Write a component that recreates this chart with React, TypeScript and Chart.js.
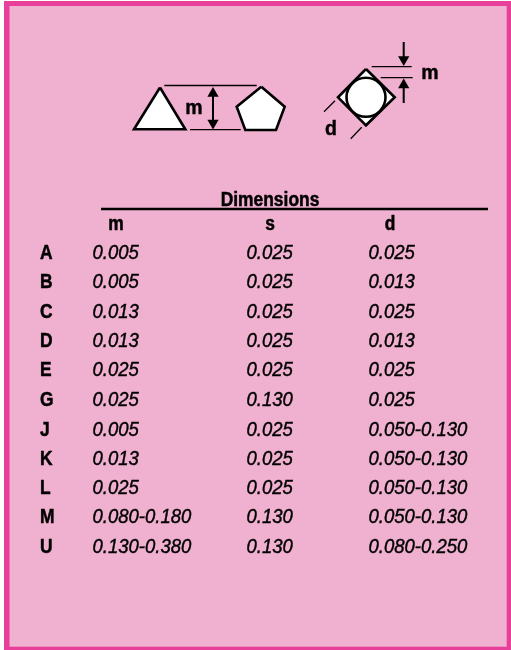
import React, { useEffect, useRef } from "react";
import { Chart, registerables } from "chart.js";

Chart.register(...registerables);

// Table content
const rowLabels = ["A", "B", "C", "D", "E", "G", "J", "K", "L", "M", "U"];
const mValues = ["0.005", "0.005", "0.013", "0.013", "0.025", "0.025", "0.005", "0.013", "0.025", "0.080-0.180", "0.130-0.380"];
const sValues = ["0.025", "0.025", "0.025", "0.025", "0.025", "0.130", "0.025", "0.025", "0.025", "0.130", "0.130"];
const dValues = ["0.025", "0.013", "0.025", "0.013", "0.025", "0.025", "0.050-0.130", "0.050-0.130", "0.050-0.130", "0.050-0.130", "0.080-0.250"];
const columnHeads = ["m", "s", "d"];
const tableTitle = "Dimensions";

// Layout in page units (scale domain = page size)
const rowBase = [259, 288.3, 317.7, 347, 376.3, 406, 435.5, 465, 494.3, 523.3, 553];
const colX = [92.5, 246.5, 368.5];
const headX = [116, 270, 390];

type P = { x: number; y: number };
const pts = (...a: number[][]): P[] => a.map(([x, y]) => ({ x, y }));

const triangle = pts([160, 87.5], [185.3, 129.3], [134, 129.3], [160, 87.5]);
const pentagon = pts([261.3, 86.7], [284.7, 106.7], [276, 130], [245.3, 130], [236.7, 106.7], [261.3, 86.7]);
const diamond = pts([366, 69], [394.7, 97.3], [366, 125.3], [338, 97.3], [366, 69]);
const circleCentre = pts([366, 97.3]);

const thinLines = [
  pts([164.3, 85.5], [256.7, 85.5]),
  pts([190, 129.7], [240.7, 129.7]),
  pts([371.7, 66.7], [411.7, 66.7]),
  pts([380.7, 77.7], [412.7, 77.7]),
  pts([324, 111.7], [335, 100.7]),
  pts([350.7, 138.7], [361.7, 127.3]),
];
const arrowShafts = [
  pts([213, 92], [213, 124]),
  pts([403.7, 42], [403.7, 60]),
  pts([403.7, 103], [403.7, 84]),
];
const upHeads = pts([213, 93.5], [403.7, 85]);
const downHeads = pts([213, 123], [403.7, 59.5]);

const rule = pts([101, 209], [488, 209]);

const polygonSet = (data: P[]) => ({
  data,
  showLine: true,
  pointRadius: 0,
  borderColor: "#000",
  borderWidth: 2.6,
  backgroundColor: "#fff",
  borderJoinStyle: "miter" as const,
  fill: "shape",
  clip: false as const,
  tension: 0,
});
const lineSet = (data: P[], w: number) => ({
  data,
  showLine: true,
  pointRadius: 0,
  borderColor: "#000",
  borderWidth: w,
  fill: false,
  clip: false as const,
  tension: 0,
});
const headSet = (data: P[], rotation: number) => ({
  data,
  showLine: false,
  pointStyle: "triangle",
  pointRadius: 6.5,
  pointRotation: rotation,
  pointBackgroundColor: "#000",
  pointBorderColor: "#000",
  pointBorderWidth: 0,
  clip: false as const,
});

const BG = "#F0B0D0";
const EDGE = "#E8409A";
const SANS = '"Liberation Sans", sans-serif';

const pagePlugin = {
  id: "page",
  beforeDraw(chart: any) {
    const { ctx, scales } = chart;
    const X = scales.x, Y = scales.y;
    const rect = (x0: number, y0: number, x1: number, y1: number, c: string) => {
      ctx.fillStyle = c;
      ctx.fillRect(X.getPixelForValue(x0), Y.getPixelForValue(y0), X.getPixelForValue(x1) - X.getPixelForValue(x0), Y.getPixelForValue(y1) - Y.getPixelForValue(y0));
    };
    rect(4, 1, 511, 650, EDGE);
    rect(9.5, 6, 506.7, 646.7, BG);
  },
};

const textPlugin = {
  id: "tableText",
  afterDatasetsDraw(chart: any) {
    const { ctx, scales } = chart;
    const X = scales.x, Y = scales.y;
    const put = (s: string, x: number, y: number, font: string, sx: number, align: CanvasTextAlign = "center", heavy = 0) => {
      ctx.save();
      ctx.translate(X.getPixelForValue(x), Y.getPixelForValue(y));
      ctx.scale(sx, 1);
      ctx.font = font;
      ctx.textAlign = align;
      ctx.textBaseline = "alphabetic";
      ctx.fillStyle = "#000";
      ctx.fillText(s, 0, 0);
      if (heavy > 0) {
        ctx.strokeStyle = "#000";
        ctx.lineWidth = heavy;
        ctx.strokeText(s, 0, 0);
      }
      ctx.restore();
    };
    const bold = `bold 20px ${SANS}`;
    const ital = `italic 19.5px ${SANS}`;
    put(tableTitle, 270, 206, bold, 0.87, "center", 0.5);
    columnHeads.forEach((h, i) => put(h, headX[i], 230, bold, 0.87, "center", 0.5));
    rowLabels.forEach((r, i) => {
      const base = rowBase[i];
      put(r, 40, base, bold, 0.87, "left", 0.5);
      put(mValues[i], colX[0], base, ital, 0.95, "left", 0.4);
      put(sValues[i], colX[1], base, ital, 0.95, "left", 0.4);
      put(dValues[i], colX[2], base, ital, 0.95, "left", 0.4);
    });
    const label = `bold 19.5px ${SANS}`;
    put("m", 194, 113.5, label, 1, "center", 0.4);
    put("m", 430, 79, label, 1, "center", 0.4);
    put("d", 331, 135, label, 1, "center", 0.4);
  },
};

export default function App() {
  const ref = useRef<HTMLCanvasElement>(null);
  useEffect(() => {
    const chart = new Chart(ref.current as HTMLCanvasElement, {
      type: "scatter",
      data: {
        datasets: [
          headSet(upHeads, 0),
          headSet(downHeads, 180),
          ...arrowShafts.map((d) => lineSet(d, 2)),
          ...thinLines.map((d) => lineSet(d, 1.3)),
          lineSet(rule, 2.5),
          {
            data: circleCentre,
            showLine: false,
            pointStyle: "circle",
            pointRadius: 19.5,
            pointBackgroundColor: "#fff",
            pointBorderColor: "#000",
            pointBorderWidth: 2.6,
            clip: false,
          },
          polygonSet(diamond),
          polygonSet(triangle),
          polygonSet(pentagon),
        ] as any,
      },
      options: {
        animation: false,
        responsive: false,
        layout: { padding: 0, autoPadding: false },
        plugins: { legend: { display: false }, tooltip: { enabled: false } },
        scales: {
          x: { type: "linear", min: 0, max: 511, display: false },
          y: { type: "linear", min: 0, max: 650, reverse: true, display: false },
        },
      },
      plugins: [pagePlugin, textPlugin],
    });
    return () => chart.destroy();
  }, []);
  return (
    <canvas
      ref={ref}
      width={511}
      height={650}
      style={{ position: "absolute", left: 0, top: 0, display: "block", width: 511, height: 650 }}
    />
  );
}
